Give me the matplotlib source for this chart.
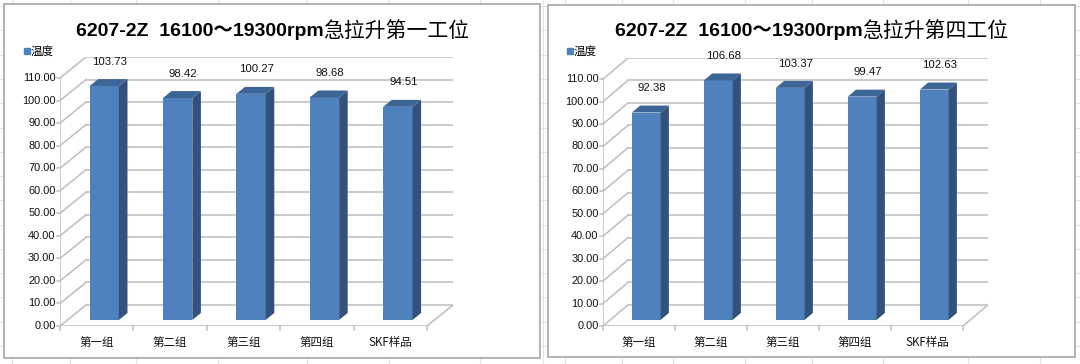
import matplotlib
matplotlib.use("Agg")
import matplotlib.pyplot as plt
from matplotlib.patches import Rectangle

# datos
categorias = ["第一组", "第二组", "第三组", "第四组", "SKF样品"]
temp_pos1 = [103.73, 98.42, 100.27, 98.68, 94.51]
temp_pos4 = [92.38, 106.68, 103.37, 99.47, 102.63]
titulo_1 = ("6207-2Z  16100～19300rpm", "急拉升第一工位")
titulo_4 = ("6207-2Z  16100～19300rpm", "急拉升第四工位")
ticks_y = [0, 10, 20, 30, 40, 50, 60, 70, 80, 90, 100, 110]
leyenda = "温度"

W, H = 1080, 364
MIX = ["Liberation Sans", "Noto Sans CJK SC"]
CJK = ["Noto Sans CJK SC", "DejaVu Sans"]
FRONT, SIDE, TOP = "#4F81BD", "#32517C", "#3D6596"
GRID = "#BDBDBD"

fig = plt.figure(figsize=(W / 100, H / 100), dpi=100)


def fx(x):
    return x / W


def fy(y):
    return 1 - y / H


# fondo tipo hoja de calculo
bg = fig.add_axes([0, 0, 1, 1])
bg.set_xlim(0, W)
bg.set_ylim(H, 0)
bg.axis("off")
for y in [6, 30, 55, 79, 103, 128, 152, 176, 200, 225, 249, 273, 297, 322, 346]:
    bg.plot([0, W], [y, y], color="#E2E2E2", lw=0.8)
for x in [12, 70, 136, 218, 307, 389, 480, 543, 565, 622, 673, 745, 812, 883, 968, 1040]:
    bg.plot([x, x], [0, H], color="#E2E2E2", lw=0.8)
for x0, x1, y0, y1 in [(4, 540, 4, 358), (548, 1075, 5, 357)]:
    bg.add_patch(Rectangle((x0, y0), x1 - x0, y1 - y0, facecolor="white",
                           edgecolor="#A6A6A6", lw=1.2, zorder=2))


def panel(valores, titulo, x_front, x_end, y0, y_back_top, dx, dy):
    # x_front: eje frontal izq., x_end: fin del eje frontal, y0: cero frontal
    x_back = x_end + (x_end - x_front) / 5 * dx
    ax = fig.add_axes([fx(x_front), fy(y0), fx(x_back - x_front), (y0 - y_back_top) / H])
    ax.set_xlim(-0.5, 4.5 + dx)
    ax.set_ylim(0, 110 + dy)
    ax.axis("off")
    n = len(valores)

    # paredes y rejilla
    for v in ticks_y:
        ax.plot([-0.5 + dx, 4.5 + dx], [v + dy, v + dy], color=GRID, lw=1.1, zorder=1)
        ax.plot([-0.5, -0.5 + dx], [v, v + dy], color=GRID, lw=1.1, zorder=1)
        ax.plot([-0.54, -0.5], [v, v], color=GRID, lw=1.1, zorder=1, clip_on=False)
        ax.text(-0.56, v, f"{v:.2f}", ha="right", va="center", fontsize=7.9,
                family=MIX, color="#111111", clip_on=False)
    ax.plot([-0.5, -0.5], [0, 110], color=GRID, lw=1.1, zorder=1)
    ax.plot([-0.5, 4.5], [0, 0], color=GRID, lw=1.2, zorder=1)
    ax.plot([4.5, 4.5 + dx], [0, dy], color=GRID, lw=1.1, zorder=1)
    for k in range(n + 1):
        ax.plot([k - 0.5, k - 0.5], [0, -1.8], color=GRID, lw=1.1, clip_on=False)

    # barras 3d
    w, f0, f1 = 0.4, 0.29, 0.62
    xs = [i + f0 * dx for i in range(n)]
    ax.bar(xs, valores, width=w, bottom=f0 * dy, color=FRONT, zorder=3)
    for i, v in enumerate(valores):
        a, b = i + f0 * dx, i + f1 * dx
        ax.fill([a + w / 2, b + w / 2, b + w / 2, a + w / 2],
                [f0 * dy, f1 * dy, v + f1 * dy, v + f0 * dy], color=SIDE, zorder=3, lw=0)
        ax.fill([a - w / 2, a + w / 2, b + w / 2, b - w / 2],
                [v + f0 * dy, v + f0 * dy, v + f1 * dy, v + f1 * dy], color=TOP, zorder=3, lw=0)
        ax.text(i + 0.18, v + 13.5, f"{v:.2f}", ha="center", va="center", fontsize=8.2,
                family=MIX, color="#111111", zorder=4, clip_on=False)
        ax.text(i, -7.2, categorias[i], ha="center", va="center", fontsize=8.3,
                family=CJK, color="#111111", clip_on=False)

    # titulo y leyenda
    xc = (x_front + x_back) / 2
    lat, cjk = titulo
    split = xc + 67
    fig.text(fx(split), fy(31), lat, ha="right", va="center", fontsize=14,
             fontweight="bold", family=MIX)
    fig.text(fx(split), fy(31), cjk, ha="left", va="center", fontsize=15, family=CJK)
    fig.patches.append(Rectangle((fx(x_front - 36), fy(54)), fx(6), 6 / H,
                                 transform=fig.transFigure, color=FRONT, figure=fig))
    fig.text(fx(x_front - 29), fy(51), leyenda, ha="left", va="center",
             fontsize=8.3, family=CJK)


panel(temp_pos1, titulo_1, 60, 427, 326, 57, 0.354, 9.3)
panel(temp_pos4, titulo_4, 603, 963, 326, 58, 0.347, 9.4)

fig.savefig("out.png", dpi=100)
